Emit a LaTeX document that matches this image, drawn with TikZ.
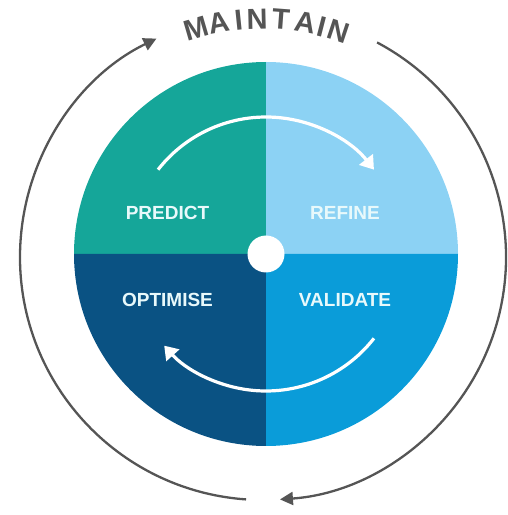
\documentclass[tikz,border=0pt]{standalone}
\usepackage{fontspec}
\setmainfont{Liberation Sans}
\usepackage{tikz}
\usetikzlibrary{calc}
\usetikzlibrary{arrows.meta}

\definecolor{predictcol}{HTML}{15A699}
\definecolor{refinecol}{HTML}{8CD2F4}
\definecolor{optimisecol}{HTML}{0A5283}
\definecolor{validatecol}{HTML}{0A9CD9}
\definecolor{ringgray}{HTML}{555555}
\definecolor{phasetext}{HTML}{E8F9FB}

\tikzset{
    ring/.style={draw=ringgray, line width=2.3pt, -{Triangle[length=13pt,width=13pt]}},
    flow/.style={draw=white, line width=3.2pt, -{Triangle[length=13pt,width=17pt]}},
    phase/.style={text=phasetext, font=\fontsize{19}{19}\selectfont\bfseries},
    letter/.style={text=ringgray, font=\fontsize{29}{29}\selectfont\bfseries, inner sep=0pt}}

\begin{document}
\begin{tikzpicture}[x=1pt,y=1pt]
        \useasboundingbox (0,0) rectangle (507,515);
        \newcommand*\disc{192}
        \coordinate (hub) at (266,261);
        \coordinate (loop) at (263,258);
        \foreach \start/\col in {90/predictcol, 0/refinecol, 180/optimisecol, 270/validatecol} {
            \fill[\col] (hub) -- ++(\start:\disc) arc[start angle=\start, end angle=\start+90, radius=\disc] -- cycle;}
        \node[circle, fill=white, minimum size=37pt, inner sep=0pt] (core) at (hub) {};
        \node[phase] (predict) at (167.5,302.5) {PREDICT};
        \node[phase] (refine) at (345,302.5) {REFINE};
        \node[phase] (optimise) at (167.5,215) {OPTIMISE};
        \node[phase] (validate) at (345,215) {VALIDATE};
        \draw[flow] ($(hub)+(142:137)$) arc[start angle=142, end angle=38, radius=137];
        \draw[flow] ($(hub)+(-38:137)$) arc[start angle=-38, end angle=-138, radius=137];
        \draw[ring] ($(loop)+(266:243)$) arc[start angle=266, end angle=116, radius=243];
        \draw[ring] ($(loop)+(62:243)$) arc[start angle=62, end angle=-86, radius=243];
        \foreach \ch/\ang [count=\i] in {M/106.3, A/100.7, I/95.9, N/91.4, T/85.7, A/79.8, I/75.6, N/71.6} {
            \node[letter, rotate=\ang-90] (letter\i) at ($(loop)+(\ang:238)$) {\ch};}
        \end{tikzpicture}
\end{document}
